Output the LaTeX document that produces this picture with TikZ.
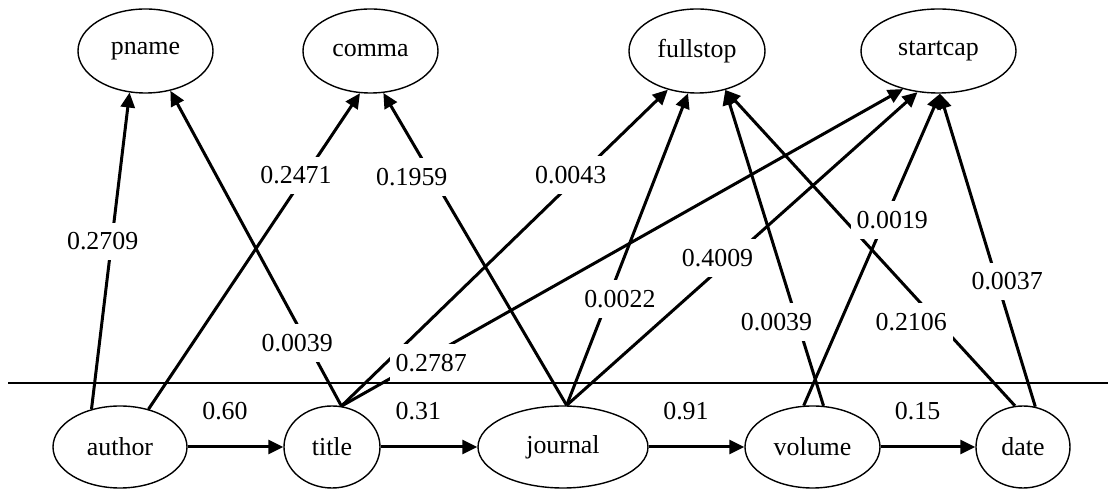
\documentclass[tikz,border=0pt]{standalone}
\usepackage{fontspec}
\setmainfont{Liberation Serif}
\usetikzlibrary{shapes.geometric,arrows.meta}

\begin{document}
\begin{tikzpicture}[
    x=0.5bp, y=-0.5bp, % une unité = un pixel de l'image
    every node/.style={font=\fontsize{13}{15}\selectfont},
    etat/.style={draw, ellipse, line width=0.7bp, inner sep=0pt},
    haut/.style={etat, minimum height=42bp},
    bas/.style={etat, minimum height=41bp},
    fleche/.style={line width=1.5bp, -{Triangle[length=7.5bp,width=7bp]}},
    trans/.style={inner sep=0pt, above=13bp},
    poids/.style={fill=white, inner xsep=3bp, inner ysep=5bp}
]
\useasboundingbox (0,0) rectangle (1108,489);

% Etats cachés (en haut)
\node[haut, minimum width=67.5bp] (pname)    at (145.5,51) {pname};
\node[haut, minimum width=67.5bp] (comma)    at (370.5,51) {comma};
\node[haut, minimum width=68bp]   (fullstop) at (697,51)   {fullstop};
\node[haut, minimum width=77.5bp] (startcap) at (938.5,51) {startcap};

% Champs (en bas)
\node[bas, minimum width=67bp]   (author)  at (120,447)   {author};
\node[bas, minimum width=48bp]   (title)   at (332,447)   {title};
\node[bas, minimum width=85bp]   (journal) at (563,447)   {journal};
\node[bas, minimum width=67.5bp] (volume)  at (812.5,447) {volume};
\node[bas, minimum width=47bp]   (date)    at (1023,447)  {date};

% Séparation
\draw[line width=0.7bp] (8,383) -- (1108,383);

% Transitions
\draw[fleche] (author) -- (title) node[trans, pos=0.39] (t1) {0.60};
\draw[fleche] (title) -- (journal) node[trans, pos=0.39] (t2) {0.31};
\draw[fleche] (journal) -- (volume) node[trans, pos=0.39] (t3) {0.91};
\draw[fleche] (volume) -- (date) node[trans, pos=0.39] (t4) {0.15};

% Emissions
\draw[fleche] (author.127) -- (pname.-111);
\draw[fleche] (author.53) -- (comma.-104);
\draw[fleche] (title.77) -- (pname.-58);
\draw[fleche] (title.77) -- (fullstop.-127);
\draw[fleche] (title.77) -- (startcap.-133);
\draw[fleche] (journal.85) -- (comma.-73);
\draw[fleche] (journal.85) -- (fullstop.-102);
\draw[fleche] (journal.85) -- (startcap.-117);
\draw[fleche] (volume.75) -- (fullstop.-54);
\draw[fleche] (volume.102) -- (startcap.-88);
\draw[fleche] (date.101) -- (fullstop.-54);
\draw[fleche] (date.73) -- (startcap.-88);

% Poids des émissions (par-dessus les arcs)
\path (author.127) -- (pname.-111) node[poids, pos=0.53, xshift=-4.5bp] (e1) {0.2709};
\path (author.53) -- (comma.-104) node[poids, pos=0.74, xshift=-4.5bp] (e2) {0.2471};
\path (title.77) -- (pname.-58) node[poids, pos=0.2, xshift=-5bp] (e3) {0.0039};
\path (title.77) -- (fullstop.-127) node[poids, pos=0.73, xshift=-4.5bp] (e4) {0.0043};
\path (title.77) -- (startcap.-133) node[poids, pos=0.135, xshift=7bp] (e5) {0.2787};
\path (journal.85) -- (comma.-73) node[poids, pos=0.73, xshift=-10.5bp] (e6) {0.1959};
\path (journal.85) -- (fullstop.-102) node[poids, pos=0.34, xshift=6bp] (e7) {0.0022};
\path (journal.85) -- (startcap.-117) node[poids, pos=0.47, xshift=-7bp] (e8) {0.4009};
\path (volume.75) -- (fullstop.-54) node[poids, pos=0.265, xshift=-10.5bp] (e9) {0.0039};
\path (volume.102) -- (startcap.-88) node[poids, pos=0.595, xshift=3.75bp] (e10) {0.0019};
\path (date.101) -- (fullstop.-54) node[poids, pos=0.265, xshift=-13.5bp] (e11) {0.2106};
\path (date.73) -- (startcap.-88) node[poids, pos=0.4, xshift=5bp] (e12) {0.0037};
\end{tikzpicture}
\end{document}
